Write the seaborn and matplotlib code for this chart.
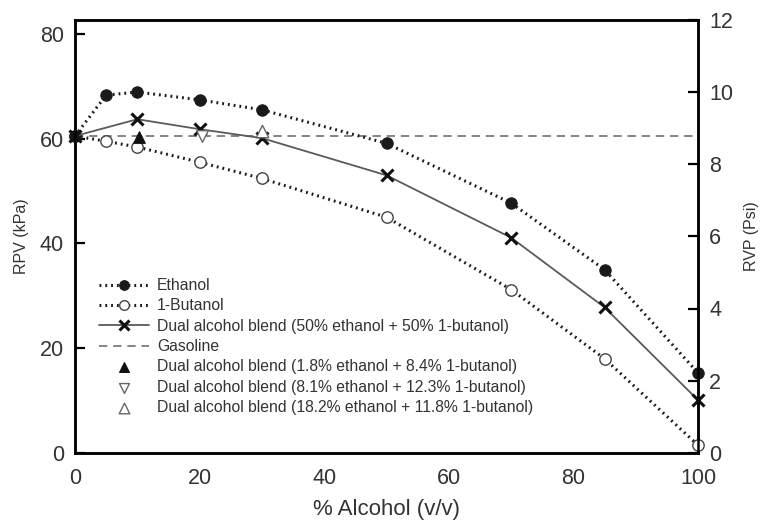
import matplotlib
matplotlib.use("Agg")
import matplotlib.pyplot as plt
import seaborn as sns
import pandas as pd

# Reid vapour pressure of alcohol/gasoline blends
alcohol_pct = [0, 5, 10, 20, 30, 50, 70, 85, 100]
ethanol_kpa = [60.5, 68.3, 68.9, 67.4, 65.5, 59.1, 47.7, 35.0, 15.3]
butanol_kpa = [60.5, 59.5, 58.4, 55.5, 52.4, 45.0, 31.2, 18.0, 1.5]

dual_pct = [0, 10, 20, 30, 50, 70, 85, 100]
dual_kpa = [60.5, 63.7, 61.8, 60.1, 53.0, 41.1, 27.8, 10.1]

gasoline_pct = [0, 100]
gasoline_kpa = [60.5, 60.5]

blend_a_pct, blend_a_kpa = [10.2], [60.3]
blend_b_pct, blend_b_kpa = [20.4], [60.5]
blend_c_pct, blend_c_kpa = [30.0], [61.4]

KPA_PER_PSI = 6.89476
psi_max = 12

labels = [
    "Ethanol",
    "1-Butanol",
    "Dual alcohol blend (50% ethanol + 50% 1-butanol)",
    "Gasoline",
    "Dual alcohol blend (1.8% ethanol + 8.4% 1-butanol)",
    "Dual alcohol blend (8.1% ethanol + 12.3% 1-butanol)",
    "Dual alcohol blend (18.2% ethanol + 11.8% 1-butanol)",
]

sns.set_theme(style="white")
text_color = "#333333"
plt.rcParams["font.family"] = ["Liberation Sans", "DejaVu Sans"]
plt.rcParams["text.color"] = text_color
plt.rcParams["axes.labelcolor"] = text_color
plt.rcParams["xtick.color"] = "black"
plt.rcParams["ytick.color"] = "black"
plt.rcParams["xtick.labelcolor"] = text_color
plt.rcParams["ytick.labelcolor"] = text_color

fig = plt.figure(figsize=(7.61, 5.25), dpi=100)
ax = fig.add_axes([75 / 761, 1 - 453 / 525, (698 - 75) / 761, (453 - 19.5) / 525])

df_eth = pd.DataFrame({"x": alcohol_pct, "y": ethanol_kpa})
df_but = pd.DataFrame({"x": alcohol_pct, "y": butanol_kpa})
df_dual = pd.DataFrame({"x": dual_pct, "y": dual_kpa})
df_gas = pd.DataFrame({"x": gasoline_pct, "y": gasoline_kpa})

dark = "#1a1a1a"

sns.lineplot(data=df_gas, x="x", y="y", ax=ax, color="#707070", lw=1.2,
             linestyle=(0, (5, 3.5)), label=labels[3], zorder=2)
sns.lineplot(data=df_eth, x="x", y="y", ax=ax, color=dark, lw=2.2,
             linestyle=(0, (0.6, 1.3)), marker="o", markersize=8.2,
             markerfacecolor=dark, markeredgecolor=dark, label=labels[0],
             clip_on=False, zorder=4)
sns.lineplot(data=df_but, x="x", y="y", ax=ax, color=dark, lw=2.2,
             linestyle=(0, (0.6, 1.3)), marker="o", markersize=8.2,
             markerfacecolor="white", markeredgecolor="#444444",
             markeredgewidth=1.0, label=labels[1], clip_on=False, zorder=3)
sns.lineplot(data=df_dual, x="x", y="y", ax=ax, color="#5a5a5a", lw=1.3,
             marker="x", markersize=8, markeredgecolor="#111111",
             markeredgewidth=2.2, label=labels[2], clip_on=False, zorder=5)

sns.scatterplot(x=blend_a_pct, y=blend_a_kpa, ax=ax, marker="^", s=70,
                color="#111111", edgecolor="#111111", linewidth=0.8,
                label=labels[4], zorder=6)
sns.scatterplot(x=blend_b_pct, y=blend_b_kpa, ax=ax, marker="v", s=70,
                facecolor="white", edgecolor="#666666", linewidth=1.0,
                label=labels[5], zorder=6)
sns.scatterplot(x=blend_c_pct, y=blend_c_kpa, ax=ax, marker="^", s=80,
                facecolor="white", edgecolor="#666666", linewidth=1.0,
                label=labels[6], zorder=6)

ax.set_xlim(0, 100)
ax.set_ylim(0, psi_max * KPA_PER_PSI)
ax.set_xticks([0, 20, 40, 60, 80, 100])
ax.set_yticks([0, 20, 40, 60, 80])
ax.tick_params(axis="both", direction="in", length=7, width=1.6,
               labelsize=15.5)
ax.tick_params(axis="y", pad=8)
ax.tick_params(axis="x", pad=11)
ax.set_xlabel("% Alcohol (v/v)", fontsize=16, labelpad=7)
ax.set_ylabel("RPV (kPa)", fontsize=11.5, labelpad=8)
for s in ax.spines.values():
    s.set_color("black")
    s.set_linewidth(1.8)

ax2 = ax.twinx()
ax2.set_ylim(0, psi_max)
ax2.set_yticks(range(0, psi_max + 1, 2))
ax2.tick_params(axis="y", direction="in", length=7, width=1.6,
                labelsize=15.5, pad=8)
ax2.set_ylabel("RVP (Psi)", fontsize=11.5, labelpad=8)
for s in ax2.spines.values():
    s.set_color("black")
    s.set_linewidth(1.8)

handles, labs = ax.get_legend_handles_labels()
order = [labs.index(l) for l in labels]
leg = ax.legend([handles[i] for i in order], [labs[i] for i in order],
                loc="upper left", bbox_to_anchor=(99 / 761, 1 - 278 / 525),
                bbox_transform=fig.transFigure, frameon=False, fontsize=11.3,
                handlelength=3.2, handletextpad=0.5, labelspacing=0.34,
                markerscale=0.85, borderpad=0, borderaxespad=0)

fig.savefig("out.png", dpi=100)
